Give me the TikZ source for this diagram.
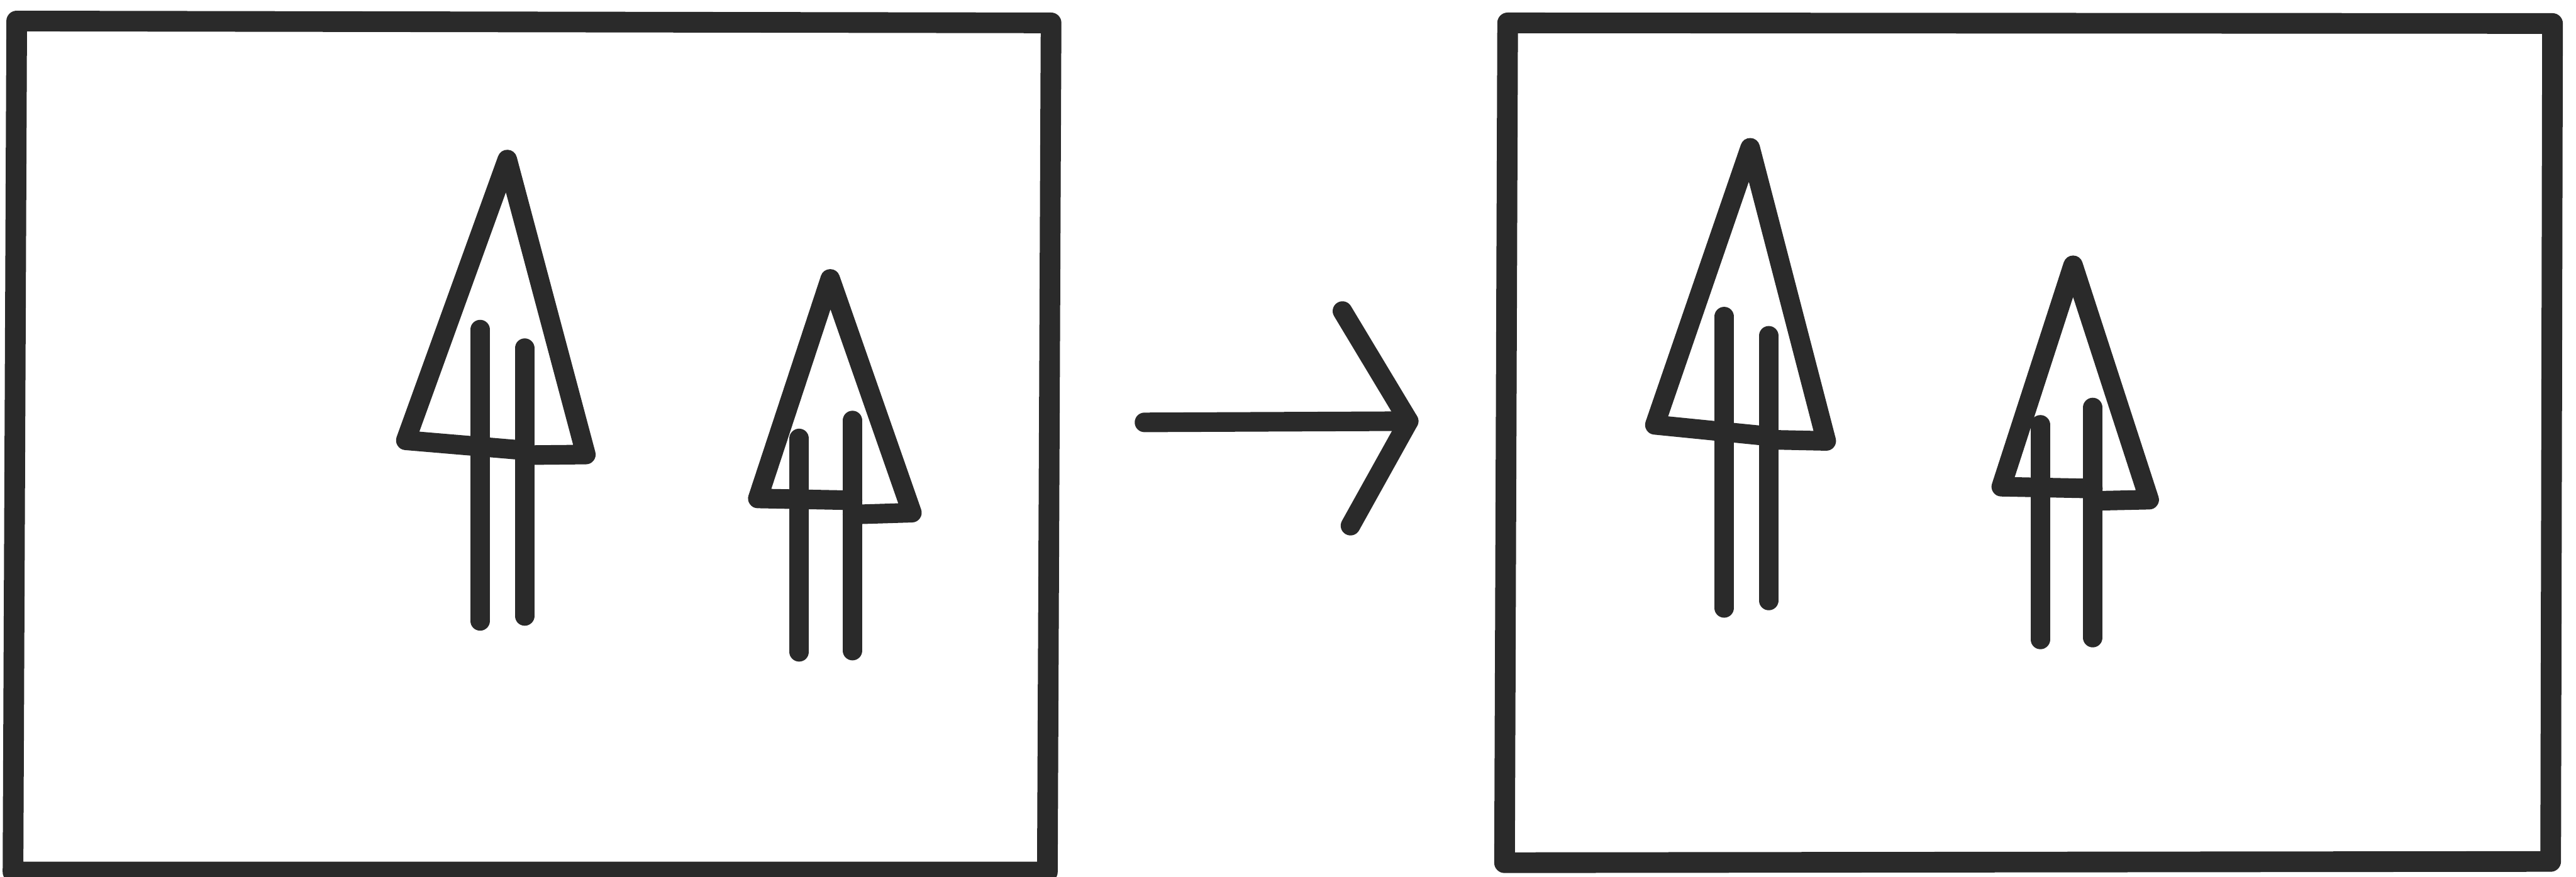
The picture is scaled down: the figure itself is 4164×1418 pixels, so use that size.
\documentclass[tikz,border=0pt]{standalone}
\definecolor{ink}{RGB}{42,42,42}
\tikzset{
  frame/.style={draw=ink, line width=9.5pt, line join=round, line cap=round},
  stroke/.style={draw=ink, line width=9pt, line join=round, line cap=round},
  arrowstroke/.style={draw=ink, line width=9pt, line join=round, line cap=round}
}
\begin{document}
\begin{tikzpicture}[x=0.01cm, y=-0.01cm]
\useasboundingbox (0,0) rectangle (4164,1418);
\fill[white] (0,0) rectangle (4164,1418);

% ---- left frame ----
\coordinate (L-tl) at (27,34);
\coordinate (L-tr) at (1699,37);
\coordinate (L-br) at (1693,1410);
\coordinate (L-bl) at (21,1410);
\draw[frame] (L-tl) -- (L-tr) -- (L-br) -- (L-bl) -- cycle;

% ---- right frame ----
\coordinate (R-tl) at (2437,37);
\coordinate (R-tr) at (4126,38);
\coordinate (R-br) at (4123,1393);
\coordinate (R-bl) at (2432,1395);
\draw[frame] (R-tl) -- (R-tr) -- (R-br) -- (R-bl) -- cycle;

% ---- left big tree ----
\coordinate (A-apex) at (820,258);
\coordinate (A-lc) at (656,712);
\coordinate (A-le) at (833,727);
\coordinate (A-rs) at (848,736);
\coordinate (A-rc) at (947,735);
\draw[stroke] (A-le) -- (A-lc) -- (A-apex) -- (A-rc) -- (A-rs);
\coordinate (A-t1a) at (776,533); \coordinate (A-t1b) at (776,1004);
\coordinate (A-t2a) at (848,563); \coordinate (A-t2b) at (848,996);
\draw[stroke] (A-t1a) -- (A-t1b);
\draw[stroke] (A-t2a) -- (A-t2b);

% ---- left small tree ----
\coordinate (B-apex) at (1342,451);
\coordinate (B-lc) at (1225,806);
\coordinate (B-le) at (1378,809);
\coordinate (B-rs) at (1378,832);
\coordinate (B-rc) at (1474,829);
\draw[stroke] (B-le) -- (B-lc) -- (B-apex) -- (B-rc) -- (B-rs);
\coordinate (B-t1a) at (1292,709); \coordinate (B-t1b) at (1292,1054);
\coordinate (B-t2a) at (1378,680); \coordinate (B-t2b) at (1378,1052);
\draw[stroke] (B-t1a) -- (B-t1b);
\draw[stroke] (B-t2a) -- (B-t2b);

% ---- arrow ----
\coordinate (arr-start) at (1850,683);
\coordinate (arr-tip) at (2277,681);
\coordinate (arr-up) at (2170,503);
\coordinate (arr-low) at (2183,850);
\draw[arrowstroke] (arr-start) -- (arr-tip);
\draw[arrowstroke] (arr-up) -- (arr-tip) -- (arr-low);

% ---- right big tree ----
\coordinate (C-apex) at (2829,239);
\coordinate (C-lc) at (2675,687);
\coordinate (C-le) at (2845,704);
\coordinate (C-rs) at (2859,711);
\coordinate (C-rc) at (2952,713);
\draw[stroke] (C-le) -- (C-lc) -- (C-apex) -- (C-rc) -- (C-rs);
\coordinate (C-t1a) at (2787,512); \coordinate (C-t1b) at (2787,983);
\coordinate (C-t2a) at (2859,543); \coordinate (C-t2b) at (2859,971);
\draw[stroke] (C-t1a) -- (C-t1b);
\draw[stroke] (C-t2a) -- (C-t2b);

% ---- right small tree ----
\coordinate (D-apex) at (3351,429);
\coordinate (D-lc) at (3235,787);
\coordinate (D-le) at (3383,790);
\coordinate (D-rs) at (3383,810);
\coordinate (D-rc) at (3474,808);
\draw[stroke] (D-le) -- (D-lc) -- (D-apex) -- (D-rc) -- (D-rs);
\coordinate (D-t1a) at (3298,687); \coordinate (D-t1b) at (3298,1034);
\coordinate (D-t2a) at (3383,659); \coordinate (D-t2b) at (3383,1031);
\draw[stroke] (D-t1a) -- (D-t1b);
\draw[stroke] (D-t2a) -- (D-t2b);
\end{tikzpicture}
\end{document}
